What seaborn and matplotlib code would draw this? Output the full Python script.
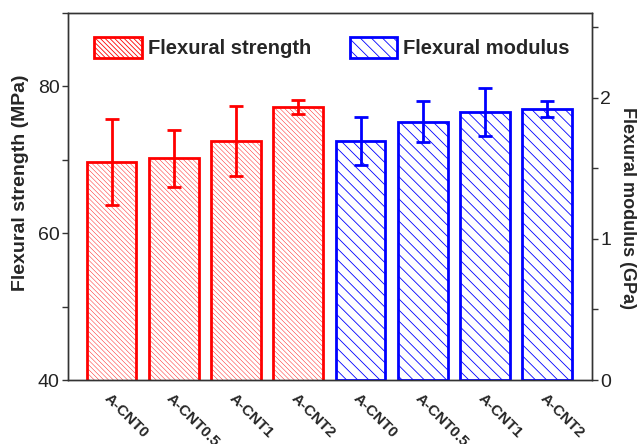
import numpy as np
import pandas as pd
import matplotlib
matplotlib.use("Agg")
import matplotlib.pyplot as plt
import seaborn as sns
from matplotlib.patches import Patch
from matplotlib.ticker import MultipleLocator

# data
samples = ["A-CNT0", "A-CNT0.5", "A-CNT1", "A-CNT2"]
strength_mean = [69.7, 70.2, 72.6, 77.2]   # MPa
strength_err = [5.9, 3.9, 4.8, 0.9]
modulus_mean = [1.69, 1.83, 1.90, 1.92]    # GPa
modulus_err = [0.17, 0.145, 0.17, 0.06]

RED_HATCH = "\\" * 7
BLUE_HATCH = "\\" * 3

sns.set_theme(style="white")
plt.rcParams["font.family"] = ["Liberation Sans", "DejaVu Sans"]
plt.rcParams["hatch.linewidth"] = 0.6


def thin_hatch(patch, lw):
    # hatch line width per patch (matplotlib >= 3.10)
    if hasattr(patch, "set_hatch_linewidth"):
        patch.set_hatch_linewidth(lw)


slots = [f"s{i}" for i in range(2 * len(samples))]
df_s = pd.DataFrame({"slot": slots[:4], "value": strength_mean})
df_m = pd.DataFrame({"slot": slots[4:], "value": modulus_mean})

fig = plt.figure(figsize=(6.38, 4.44), dpi=100)
ax = fig.add_axes([0.1066, 0.144, 0.8214, 0.8267])
ax2 = ax.twinx()

sns.barplot(data=df_s, x="slot", y="value", order=slots, color="white",
            width=0.8, errorbar=None, ax=ax)
sns.barplot(data=df_m, x="slot", y="value", order=slots, color="white",
            width=0.8, errorbar=None, ax=ax2)

for p in ax.patches:
    p.set_facecolor("white")
    p.set_edgecolor("#ff0000")
    p.set_hatch(RED_HATCH)
    p.set_linewidth(2)
    thin_hatch(p, 0.3)
for p in ax2.patches:
    p.set_facecolor("white")
    p.set_edgecolor("#0000ff")
    p.set_hatch(BLUE_HATCH)
    p.set_linewidth(2)
    thin_hatch(p, 0.6)

pos = np.arange(len(slots))
ax.errorbar(pos[:4], strength_mean, yerr=strength_err, fmt="none",
            ecolor="#ff0000", elinewidth=2, capsize=5, capthick=2, zorder=5)
ax2.errorbar(pos[4:], modulus_mean, yerr=modulus_err, fmt="none",
             ecolor="#0000ff", elinewidth=2, capsize=5, capthick=2, zorder=5)

ax.set_ylim(40, 90)
ax2.set_ylim(0, 2.6)
ax.set_xlim(-0.70, 7.72)

ax.yaxis.set_minor_locator(MultipleLocator(10))
ax2.yaxis.set_minor_locator(MultipleLocator(0.5))
ax.set_yticks([40, 60, 80])
ax2.set_yticks([0, 1, 2])

for a in (ax, ax2):
    a.tick_params(axis="y", which="both", direction="out", length=4, width=1,
                  colors="#333333", labelsize=14, labelcolor="#222222", pad=2)
    for s in a.spines.values():
        s.set_color("#333333")
        s.set_linewidth(1)
ax.tick_params(axis="y", which="both", left=True, right=False)
ax2.tick_params(axis="y", which="both", right=True, left=False)

ax.set_xticks(pos)
ax.set_xticklabels(samples + samples, rotation=-45, ha="left", va="top",
                   rotation_mode="anchor", fontsize=11, fontweight="bold")
ax.tick_params(axis="x", length=0, pad=8)
ax.set_xlabel("")
ax2.set_xlabel("")

ax.set_ylabel("Flexural strength (MPa)", fontsize=14, fontweight="bold", labelpad=6)
ax2.set_ylabel("Flexural modulus (GPa)", fontsize=13, fontweight="bold",
               rotation=270, labelpad=18)
ax.yaxis.label.set_y(0.538)
ax2.yaxis.label.set_y(0.47)

handles = [
    Patch(facecolor="white", edgecolor="#ff0000", hatch=RED_HATCH, linewidth=2,
          label="Flexural strength"),
    Patch(facecolor="white", edgecolor="#0000ff", hatch=BLUE_HATCH, linewidth=2,
          label="Flexural modulus"),
]
thin_hatch(handles[0], 0.3)
thin_hatch(handles[1], 0.6)
ax2.legend(handles=handles, loc="upper left", bbox_to_anchor=(0.05, 0.935), ncol=2,
           frameon=False, prop={"weight": "bold", "size": 14.5},
           handlelength=2.35, handleheight=1.25, handletextpad=0.3,
           columnspacing=1.95, borderaxespad=0, borderpad=0)

fig.savefig("out.png", dpi=100)
